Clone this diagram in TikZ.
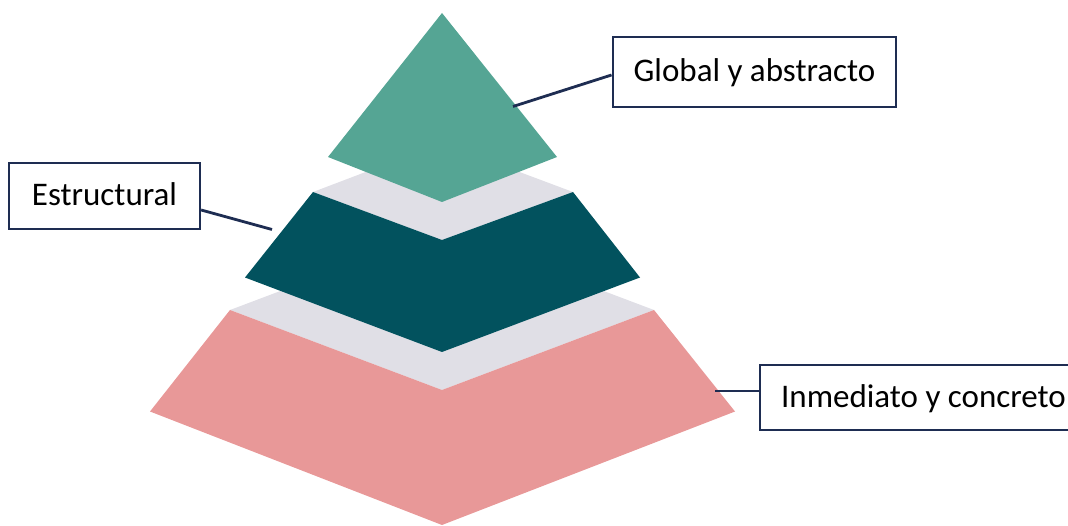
\documentclass[tikz,border=0pt]{standalone}
\usepackage{fontspec}
\setmainfont{Carlito}
\definecolor{topteal}{HTML}{55A594}
\definecolor{darkteal}{HTML}{02525E}
\definecolor{bandgrey}{HTML}{E0DFE6}
\definecolor{pinklayer}{HTML}{E89898}
\definecolor{navyline}{HTML}{1E2D52}
\tikzset{
  label box/.style={draw=navyline, line width=2.3pt, fill=white, font=\fontsize{33}{39}\selectfont,
    text=black, inner xsep=21pt, text height=26pt, text depth=6pt},
  leader/.style={draw=navyline, line width=2.8pt}
}
\begin{document}
\begin{tikzpicture}[x=1pt,y=-1pt]
\useasboundingbox (0,0) rectangle (1068,526);
\clip (0,0) rectangle (1068,526);
% bottom layer
\fill[bandgrey] (230,310) -- (442,230) -- (654,310) -- (442,390) -- cycle;
\fill[pinklayer] (230,310) -- (442,390) -- (654,310) -- (735,411.5) -- (442,525) -- (150,411.5) -- cycle;
% middle layer
\fill[bandgrey] (313,192) -- (442,143) -- (573,192) -- (442,240) -- cycle;
\fill[darkteal] (313,192) -- (442,240) -- (573,192) -- (640,277.5) -- (442,352) -- (245,277.5) -- cycle;
% top layer
\fill[topteal] (442,13) -- (557,157) -- (442,202) -- (328,157) -- cycle;
% labels
\node[label box, minimum width=273pt, minimum height=70pt] (glob) at (754.5,72) {Global y abstracto};
\node[label box, minimum width=191pt, minimum height=66pt] (estr) at (104.5,196) {Estructural};
\node[label box, anchor=west, minimum height=65pt] (inme) at (759,397.5) {Inmediato y concreto};
% leader ends
\coordinate (gEnd) at (513,106.5);
\coordinate (eEnd) at (272,229.5);
\coordinate (iEnd) at (715,391);
\draw[leader] ([yshift=-3pt]glob.west) -- (gEnd);
\draw[leader] ([yshift=-14pt]estr.east) -- (eEnd);
\draw[leader] ([yshift=6.5pt]inme.west) -- (iEnd);
\end{tikzpicture}
\end{document}
